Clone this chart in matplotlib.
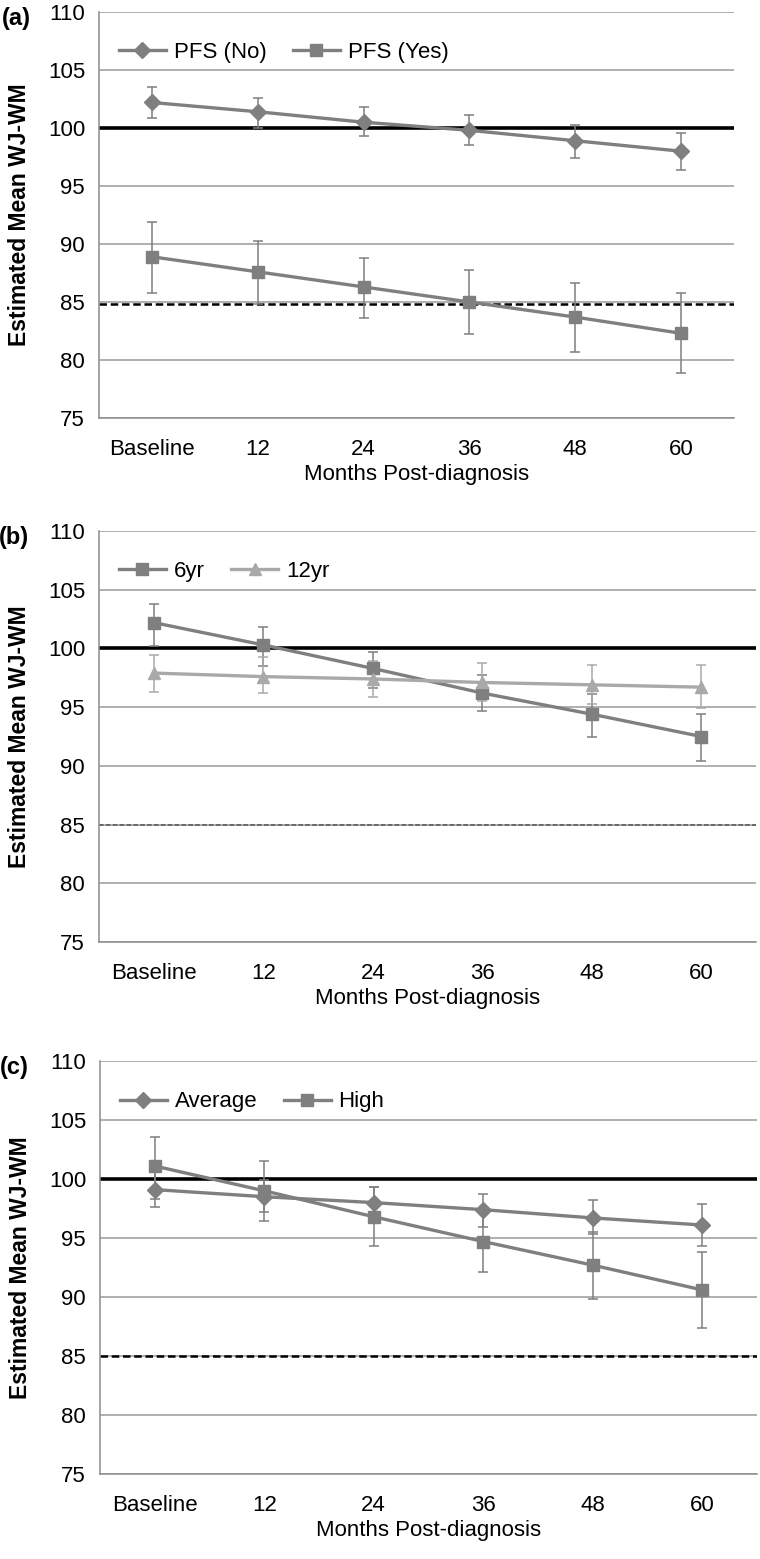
import numpy as np
import matplotlib
matplotlib.use("Agg")
import matplotlib.pyplot as plt

plt.rcParams['font.family'] = ['Liberation Sans', 'DejaVu Sans']

months = ["Baseline", "12", "24", "36", "48", "60"]

# panel a: PFS
pfs_no = [102.2, 101.4, 100.5, 99.8, 98.9, 98.0]
pfs_no_lo = [100.9, 100.0, 99.3, 98.5, 97.4, 96.4]
pfs_no_hi = [103.5, 102.6, 101.8, 101.1, 100.3, 99.6]
pfs_yes = [88.9, 87.6, 86.3, 85.0, 83.7, 82.3]
pfs_yes_lo = [85.8, 84.8, 83.6, 82.2, 80.7, 78.9]
pfs_yes_hi = [91.9, 90.3, 88.8, 87.8, 86.6, 85.8]

# panel b: age at diagnosis
yr6 = [102.2, 100.3, 98.3, 96.2, 94.4, 92.5]
yr6_lo = [100.2, 98.5, 96.6, 94.7, 92.5, 90.4]
yr6_hi = [103.8, 101.8, 99.7, 97.7, 96.1, 94.4]
yr12 = [97.9, 97.6, 97.4, 97.1, 96.9, 96.7]
yr12_lo = [96.3, 96.2, 95.9, 95.5, 95.3, 94.9]
yr12_hi = [99.4, 99.3, 98.9, 98.8, 98.6, 98.6]

# panel c: risk group
avg = [99.1, 98.5, 98.0, 97.4, 96.7, 96.1]
avg_lo = [97.6, 97.2, 96.6, 95.9, 95.3, 94.3]
avg_hi = [100.6, 99.9, 99.3, 98.7, 98.2, 97.9]
high = [101.1, 99.0, 96.8, 94.7, 92.7, 90.6]
high_lo = [98.3, 96.4, 94.3, 92.1, 89.8, 87.4]
high_hi = [103.6, 101.5, 99.3, 97.3, 95.5, 93.8]

W, H = 760, 1559
fig = plt.figure(figsize=(W / 100, H / 100), dpi=100)


def make_ax(left, right, top, bottom):
    return fig.add_axes([left / W, 1 - bottom / H, (right - left) / W, (bottom - top) / H])


def series(ax, y, lo, hi, marker, color, label, ms):
    x = np.arange(len(y))
    y = np.array(y)
    err = [y - np.array(lo), np.array(hi) - y]
    ax.errorbar(x, y, yerr=err, fmt='none', ecolor=color, elinewidth=1.1,
                capsize=3.5, capthick=1.1, zorder=3)
    ax.plot(x, y, color=color, lw=2.4, marker=marker, ms=ms, label=label, zorder=4)


def style(ax, tag, dash_color, dash_lw, dash_y=85):
    ax.set_xlim(-0.5, 5.5)
    ax.set_ylim(75, 110)
    ax.set_yticks(range(75, 111, 5))
    ax.set_xticks(range(6))
    ax.set_xticklabels(months)
    ax.grid(axis='y', color='#9a9a9a', lw=1.1)
    ax.set_axisbelow(True)
    for s in ['top', 'right']:
        ax.spines[s].set_visible(False)
    ax.spines['left'].set_color('#8c8c8c')
    ax.spines['bottom'].set_color('#8c8c8c')
    ax.spines['left'].set_linewidth(1.1)
    ax.spines['bottom'].set_linewidth(1.1)
    ax.tick_params(length=0, labelsize=16)
    ax.tick_params(axis='x', pad=15)
    ax.tick_params(axis='y', pad=10)
    ax.axhline(100, color='black', lw=2.6, zorder=2)
    ax.axhline(dash_y, color=dash_color, lw=dash_lw, ls=(0, (3, 1.5)), zorder=2)
    ax.set_xlabel("Months Post-diagnosis", fontsize=16, labelpad=3)
    ax.set_ylabel("Estimated Mean WJ-WM", fontsize=16.5, fontweight='bold', labelpad=12)
    ax.text(-0.13, 0.985, tag, transform=ax.transAxes, fontsize=17, fontweight='bold',
            ha='center', va='center')
    ax.legend(loc='upper left', bbox_to_anchor=(0.0, 0.975), ncol=2, frameon=False,
              fontsize=16, handlelength=2.1, handletextpad=0.36, columnspacing=1.2)


gray = '#7f7f7f'
light = '#a9a9a9'

ax1 = make_ax(99, 734, 12, 418)
series(ax1, pfs_no, pfs_no_lo, pfs_no_hi, 'D', gray, "PFS (No)", 8.5)
series(ax1, pfs_yes, pfs_yes_lo, pfs_yes_hi, 's', gray, "PFS (Yes)", 8)
style(ax1, "(a)", 'black', 1.8, dash_y=84.8)

ax2 = make_ax(99, 756, 531, 942)
series(ax2, yr6, yr6_lo, yr6_hi, 's', gray, "6yr", 8)
series(ax2, yr12, yr12_lo, yr12_hi, '^', light, "12yr", 9)
style(ax2, "(b)", '#555555', 1.1)

ax3 = make_ax(100, 757, 1061, 1474)
series(ax3, avg, avg_lo, avg_hi, 'D', gray, "Average", 8.5)
series(ax3, high, high_lo, high_hi, 's', gray, "High", 8)
style(ax3, "(c)", 'black', 1.8)

fig.savefig("out.png", dpi=100)
